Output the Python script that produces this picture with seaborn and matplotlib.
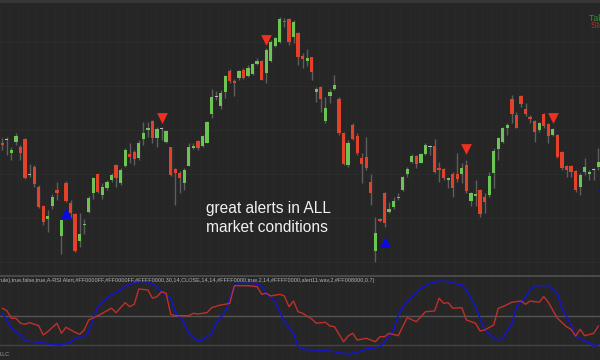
import numpy as np
import pandas as pd
import matplotlib
matplotlib.use("Agg")
import matplotlib.pyplot as plt
from matplotlib.patches import Rectangle
from matplotlib.lines import Line2D
import seaborn as sns

# --- candles (price units), one entry per bar ---
opens = [157, 160, 147, 158, 153, 161, 125, 133, 113, 94,
         81, 94, 110, 64, 117, 97, 86, 59, 75, 88,
         107, 126, 105, 112, 120, 135, 117, 134, 146, 148,
         142, 161, 170, 179, 162, 171, 158, 153, 131, 127,
         117, 134, 152, 159, 154, 157, 186, 203, 194, 208,
         229, 219, 222, 230, 224, 226, 236, 239, 227, 239,
         254, 258, 279, 281, 263, 267, 244, 239, 243, 208,
         213, 179, 204, 211, 201, 167, 135, 175, 164, 142,
         143, 118, 49, 81, 107, 88, 93, 102, 110, 126,
         138, 144, 137, 146, 153, 154, 132, 131, 120, 126,
         126, 126, 135, 99, 104, 110, 103, 105, 127, 151,
         158, 172, 201, 185, 204, 191, 183, 179, 170, 186,
         176, 165, 165, 148, 134, 134, 129, 113, 128, 126,
         130, 133]
closes = [155, 160, 150, 164, 147, 122, 125, 116, 93, 78,
          84, 103, 107, 80, 99, 87, 49, 66, 76, 102,
          122, 108, 113, 118, 125, 122, 130, 150, 143, 141,
          157, 167, 172, 162, 171, 171, 169, 125, 127, 122,
          130, 153, 154, 152, 164, 178, 203, 203, 207, 224,
          219, 217, 229, 222, 232, 236, 239, 220, 250, 258,
          262, 281, 278, 258, 278, 243, 241, 242, 228, 211,
          201, 192, 208, 215, 167, 136, 157, 161, 147, 136,
          132, 107, 67, 79, 77, 91, 99, 103, 123, 131,
          144, 136, 146, 155, 153, 128, 130, 122, 122, 112,
          121, 132, 109, 107, 106, 86, 98, 124, 149, 162,
          172, 175, 186, 172, 196, 186, 181, 168, 177, 174,
          164, 171, 143, 132, 130, 128, 110, 125, 133, 128,
          130, 138]
highs = [162, 163, 153, 167, 155, 162, 136, 135, 115, 95,
         90, 106, 118, 80, 119, 100, 87, 87, 81, 104,
         123, 127, 117, 120, 127, 136, 132, 152, 157, 150,
         160, 178, 178, 180, 173, 173, 170, 153, 132, 129,
         132, 157, 157, 160, 165, 179, 211, 209, 210, 225,
         231, 221, 230, 232, 235, 237, 242, 240, 252, 260,
         263, 283, 282, 282, 280, 268, 247, 251, 243, 213,
         214, 203, 211, 225, 203, 168, 160, 177, 167, 147,
         163, 126, 83, 82, 108, 98, 103, 107, 124, 133,
         146, 145, 147, 157, 155, 161, 138, 132, 123, 128,
         147, 137, 140, 108, 120, 111, 107, 128, 152, 163,
         173, 177, 205, 188, 205, 197, 185, 180, 178, 187,
         177, 172, 166, 149, 135, 135, 130, 127, 142, 130,
         132, 152]
lows = [150, 145, 140, 155, 140, 121, 123, 113, 92, 75,
        68, 91, 100, 46, 98, 82, 48, 53, 66, 87,
        101, 107, 101, 110, 118, 113, 115, 133, 137, 135,
        140, 155, 163, 157, 153, 160, 157, 124, 95, 107,
        110, 134, 151, 150, 153, 157, 182, 200, 191, 202,
        217, 204, 220, 221, 223, 225, 235, 220, 217, 238,
        253, 257, 273, 255, 257, 235, 232, 234, 220, 198,
        188, 177, 197, 210, 165, 135, 133, 160, 145, 117,
        130, 95, 38, 78, 73, 87, 91, 100, 109, 123,
        137, 132, 137, 145, 145, 127, 118, 120, 112, 103,
        118, 117, 107, 94, 94, 83, 87, 103, 112, 140,
        157, 165, 177, 172, 193, 184, 177, 158, 168, 172,
        157, 164, 142, 130, 123, 123, 108, 105, 125, 120,
        120, 130]

# --- alert arrows ---
sell_idx = [35, 58, 102, 121]
sell_price = [182, 260, 151, 182]
buy_idx = [14, 84, 132]
buy_price = [87, 58, 114]

# --- oscillator panel ---
blue_idx = [0, 1, 2, 4, 5, 7, 9, 10, 12, 13, 15, 16, 18, 19, 20, 21, 23, 24, 26, 27,
            30, 32, 34, 35, 37, 38, 40, 41, 42, 43, 44, 46, 47, 49, 50, 51, 52, 55, 57, 58,
            60, 61, 62, 64, 65, 67, 70, 73, 76, 77, 79, 80, 82, 83, 84, 86, 87, 89, 90, 92,
            94, 96, 98, 101, 102, 104, 105, 106, 108, 109, 110, 112, 113, 115, 116, 117, 120, 122, 123, 125,
            126, 128, 129, 130, 131]
blue_val = [52.8, 45.9, 37.3, 30.4, 24.1, 23.4, 22.4, 21, 20, 20, 22.8, 26.9, 28.6, 33.8, 47.6, 59.6, 69.3, 71.7, 76.9, 81.3,
            85.5, 85.5, 80.3, 75.1, 68.3, 54.4, 42.5, 32.1, 26.9, 24.5, 25.2, 32.1, 42.5, 54.4, 68.3, 80.3, 83.8, 83.8, 81.3, 73.5,
            64.8, 54.4, 44.1, 32.1, 18, 14.8, 14.8, 13.1, 10.4, 11.4, 13.8, 15.9, 17.2, 18.3, 23.4, 35.5, 51, 65.5, 70, 78.6,
            83.8, 86.2, 85.5, 82.1, 76.9, 59.6, 47.6, 35.5, 26.9, 25.2, 26.9, 42.5, 59.6, 70, 76.9, 81.3, 81.3, 73.5, 58, 40.7,
            28.6, 24.1, 22.4, 18.3, 20.7]
red_idx = [0, 1, 2, 3, 4, 5, 6, 8, 9, 10, 12, 13, 14, 16, 17, 18, 19, 21, 22, 24,
           25, 27, 28, 29, 30, 32, 33, 34, 35, 36, 37, 38, 41, 42, 43, 45, 46, 48, 49, 50,
           51, 54, 56, 57, 58, 59, 61, 62, 63, 64, 65, 66, 68, 69, 71, 72, 73, 75, 76, 77,
           78, 80, 82, 83, 84, 85, 87, 89, 91, 93, 95, 96, 97, 98, 99, 101, 102, 104, 105, 106,
           108, 109, 110, 112, 114, 115, 116, 118, 119, 120, 122, 124, 125, 126, 127, 128, 130, 131]
red_val = [58, 55.5, 47.6, 47.6, 42.5, 41.4, 43.1, 40, 30.4, 33.8, 42.5, 32.1, 38.3, 33.1, 31.1, 35.5, 45.9, 50.3, 52.8, 58,
           53.4, 63.8, 59.6, 62.1, 77.9, 76.9, 68.3, 70, 75.1, 73.5, 51.8, 50.3, 50.3, 52.8, 52.1, 53.4, 58.6, 61.4, 62.1, 63.1,
           81.3, 81.3, 80.3, 72.4, 73.5, 70.7, 72.4, 70.7, 59.6, 65.5, 54.4, 52.8, 46.9, 42.5, 43.5, 39.7, 38.9, 23.4, 29.3, 32.1,
           25.2, 26.9, 23.4, 28.6, 28.6, 32.1, 29.6, 48.2, 44.1, 54.4, 55.2, 68.3, 63.1, 63.8, 58, 58.6, 45.9, 42.5, 34.5, 35.5,
           40.7, 58, 59.6, 64.2, 65.5, 62.1, 65.5, 64.2, 70, 64.2, 47.6, 38.9, 36.2, 29.3, 36.2, 29.6, 32.1, 39.7]
levels = [50, 20]

settings_text = ("rule),true,false,true,A-RSI Alert,#FF0000FF,#FF0000FF,#FFFF0000,30,14,CLOSE,14,14,"
                 "#FFFF0000,true,2,14,#FFFF0000,alert11.wav,2,#FF008000,0.7)")

BG = "#262626"
GREEN = "#6cc552"
RED = "#e4412b"
DOJI = "#b8b8b8"
WICK = "#5e5e5e"

sns.set_style("dark")
plt.rcParams["font.family"] = ["Liberation Sans", "DejaVu Sans"]

fig = plt.figure(figsize=(6, 3.6), dpi=100, facecolor=BG)
ax = fig.add_axes([0, 84 / 360, 1, 272 / 360])
ax2 = fig.add_axes([0, 0, 1, 83 / 360])
for a in (ax, ax2):
    a.set_facecolor(BG)
    a.set_xlim(-0.505, 131.36)
    a.set_xticks([])
    a.set_yticks([])
    for s in a.spines.values():
        s.set_visible(False)
ax.set_ylim(24, 296)
ax2.set_ylim(4.5, 90.3)

# --- faint grid ---
n = len(opens)
for i in range(0, n + 2, 2):
    ax.axvline(i - 0.5, color="#2a2a2a", lw=0.6, zorder=0)
    ax2.axvline(i - 0.5, color="#2a2a2a", lw=0.6, zorder=0)
for p in [258, 214, 170, 126, 82, 38]:
    ax.axhline(p, color="#2c2c2c", lw=0.7, zorder=0)

# --- candles ---
df = pd.DataFrame({"o": opens, "h": highs, "l": lows, "c": closes})
df["i"] = np.arange(n)
df["bottom"] = df[["o", "c"]].min(axis=1)
df["height"] = np.maximum((df["c"] - df["o"]).abs(), 1.0)
df["color"] = np.where(df["c"] > df["o"], GREEN, np.where(df["c"] < df["o"], RED, DOJI))
ax.vlines(df["i"], df["l"], df["h"], color=WICK, lw=1.0, zorder=2)
ax.bar(df["i"], df["height"], bottom=df["bottom"], width=0.72, color=df["color"], lw=0, zorder=3)

# --- alerts ---
sns.scatterplot(x=sell_idx, y=sell_price, marker="v", s=60, color="#f0301e", linewidth=0, ax=ax, zorder=4)
sns.scatterplot(x=buy_idx, y=buy_price, marker="^", s=60, color="#0a0ae6", linewidth=0, ax=ax, zorder=4)

fig.text(206 / 600, 1 - 213 / 360, "great alerts in ALL", color="#f0f0f0", fontsize=11.2, va="baseline")
fig.text(206 / 600, 1 - 232 / 360, "market conditions", color="#f0f0f0", fontsize=11.2, va="baseline")
fig.text(589 / 600, 1 - 21 / 360, "Take Profit", color="#3c8a3c", fontsize=6.3, va="baseline")
fig.text(591 / 600, 1 - 28.5 / 360, "Stop Loss", color="#b03030", fontsize=6.3, va="baseline")

# --- oscillator ---
for lv, col in zip(levels, ["#555555", "#444444"]):
    ax2.axhline(lv, color=col, lw=1.0, zorder=1)
sns.lineplot(x=blue_idx, y=blue_val, color="#1414d2", lw=1.1, ax=ax2, sort=False, estimator=None, zorder=3)
sns.lineplot(x=red_idx, y=red_val, color="#c0302a", lw=1.0, ax=ax2, sort=False, estimator=None, zorder=3)
ax2.set_xlabel("")
ax2.set_ylabel("")

fig.text(-1 / 600, 1 - 280.5 / 360, settings_text, color="#b4b4b4", fontsize=3.95, va="center")
fig.text(-1 / 600, 1 - 354.5 / 360, "LLC", color="#a0a0a0", fontsize=4, va="center")

# --- panel frame lines ---
fig.add_artist(Rectangle((0, 1 - 3 / 360), 1, 3 / 360, transform=fig.transFigure, color="#363636", lw=0))
fig.add_artist(Line2D([0, 1], [1 - 276 / 360] * 2, transform=fig.transFigure, color="#505050", lw=1.2))

fig.savefig("out.png", dpi=100, facecolor=BG)
